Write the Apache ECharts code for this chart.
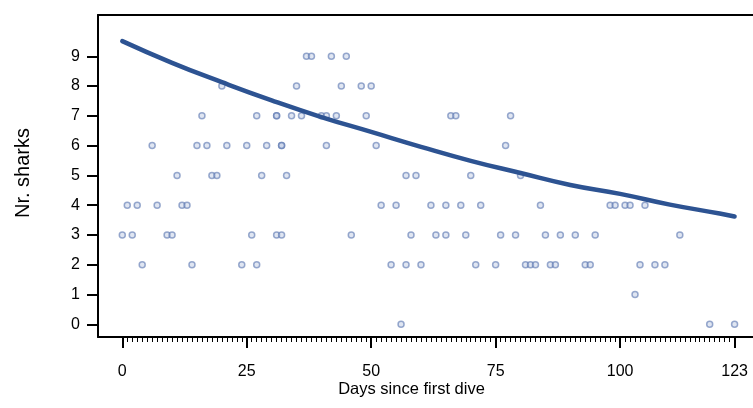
<!DOCTYPE html>
<html>
<head>
<meta charset="utf-8">
<script src="https://cdn.jsdelivr.net/npm/echarts@6/dist/echarts.min.js"></script>
<style>html,body{margin:0;padding:0;background:#fff;}#c{width:753px;height:408px;}</style>
</head>
<body>
<div id="c"></div>
<script>
// Observed dives: day since first dive and number of sharks counted
const diveDays = [
  37,38,42,45,
  20,35,44,48,50,
  16,27,31,31,34,36,40,41,43,49,66,67,78,
  6,15,17,21,25,29,32,32,41,51,77,
  11,18,19,28,33,57,59,70,80,
  1,3,7,12,13,52,55,62,65,68,72,84,98,99,101,102,105,
  0,2,9,10,26,31,32,46,58,63,65,69,76,79,85,88,91,95,112,
  4,14,24,27,54,57,60,71,75,81,82,83,86,87,93,94,104,107,109,
  103,
  56,118,123
];
const sharkCounts = [
  9,9,9,9,
  8,8,8,8,8,
  7,7,7,7,7,7,7,7,7,7,7,7,7,
  6,6,6,6,6,6,6,6,6,6,6,
  5,5,5,5,5,5,5,5,5,
  4,4,4,4,4,4,4,4,4,4,4,4,4,4,4,4,4,
  3,3,3,3,3,3,3,3,3,3,3,3,3,3,3,3,3,3,3,
  2,2,2,2,2,2,2,2,2,2,2,2,2,2,2,2,2,2,2,
  1,
  0,0,0
];
// Fitted curve
const fitDays   = [0, 10, 20, 30, 40, 50, 60, 70, 80, 90, 100, 110, 120, 123];
const fitValues = [9.51, 8.78, 8.13, 7.52, 6.96, 6.46, 5.96, 5.49, 5.08, 4.68, 4.38, 4.02, 3.72, 3.62];
// Axis ticks
const xTickLabels = [0, 25, 50, 75, 100, 123];
const yTickLabels = [0, 1, 2, 3, 4, 5, 6, 7, 8, 9];
const xMinorTicks = [];
for (let d = 0; d <= 123; d++) xMinorTicks.push(d);

const scatterData = diveDays.map((d, i) => [d, sharkCounts[i]]);
const fitData = fitDays.map((d, i) => [d, fitValues[i]]);

const FONT = 'Liberation Sans, Arial, sans-serif';
const XMIN = -4.88, XMAX = 126.7, YMIN = -0.426, YMAX = 10.386;

function xAx(extra) {
  return Object.assign({
    type: 'value', min: XMIN, max: XMAX, position: 'bottom',
    axisLine: {show: false, onZero: false},
    axisTick: {show: false}, axisLabel: {show: false}, splitLine: {show: false}
  }, extra);
}
function yAx(extra) {
  return Object.assign({
    type: 'value', min: YMIN, max: YMAX, position: 'left',
    axisLine: {show: false, onZero: false},
    axisTick: {show: false}, axisLabel: {show: false}, splitLine: {show: false}
  }, extra);
}

const chart = echarts.init(document.getElementById('c'), null, {renderer: 'canvas'});
chart.setOption({
  animation: false,
  backgroundColor: '#fff',
  grid: {left: 98, right: 0, top: 15, bottom: 71, show: false},
  xAxis: [
    // main axis line (data axis)
    xAx({axisLine: {show: true, onZero: false, lineStyle: {color: '#000', width: 2}}}),
    // major ticks
    xAx({axisTick: {show: true, length: 11, customValues: xTickLabels, lineStyle: {color: '#000', width: 2}}}),
    // minor ticks
    xAx({axisTick: {show: true, length: 5, customValues: xMinorTicks, lineStyle: {color: '#000', width: 1}}}),
    // labels
    xAx({axisLabel: {show: true, customValues: xTickLabels, margin: 27, color: '#000', fontSize: 16, fontFamily: FONT}}),
    // top frame line
    xAx({position: 'top', axisLine: {show: true, onZero: false, lineStyle: {color: '#000', width: 2}}})
  ],
  yAxis: [
    yAx({axisLine: {show: true, onZero: false, lineStyle: {color: '#000', width: 2}}}),
    yAx({axisTick: {show: true, length: 11, customValues: yTickLabels, lineStyle: {color: '#000', width: 2}}}),
    yAx({axisLabel: {show: true, customValues: yTickLabels, margin: 18, color: '#000', fontSize: 16, fontFamily: FONT}})
  ],
  graphic: [
    {type: 'text', x: 411.5, y: 389, style: {text: 'Days since first dive', fill: '#000', font: '16.5px ' + FONT, align: 'center', verticalAlign: 'middle'}},
    {type: 'text', x: 23, y: 173, rotation: Math.PI / 2, style: {text: 'Nr. sharks', fill: '#000', font: '20px ' + FONT, align: 'center', verticalAlign: 'middle'}}
  ],
  series: [
    {
      type: 'scatter', xAxisIndex: 0, yAxisIndex: 0, data: scatterData, symbol: 'circle', symbolSize: 6,
      itemStyle: {color: 'rgba(185,199,226,0.55)', borderColor: 'rgba(95,122,178,0.8)', borderWidth: 1.5},
      z: 2
    },
    {
      type: 'line', xAxisIndex: 0, yAxisIndex: 0, data: fitData, smooth: true, showSymbol: false,
      lineStyle: {color: '#2d5392', width: 4.5, cap: 'round'}, z: 3
    }
  ]
});
</script>
</body>
</html>
